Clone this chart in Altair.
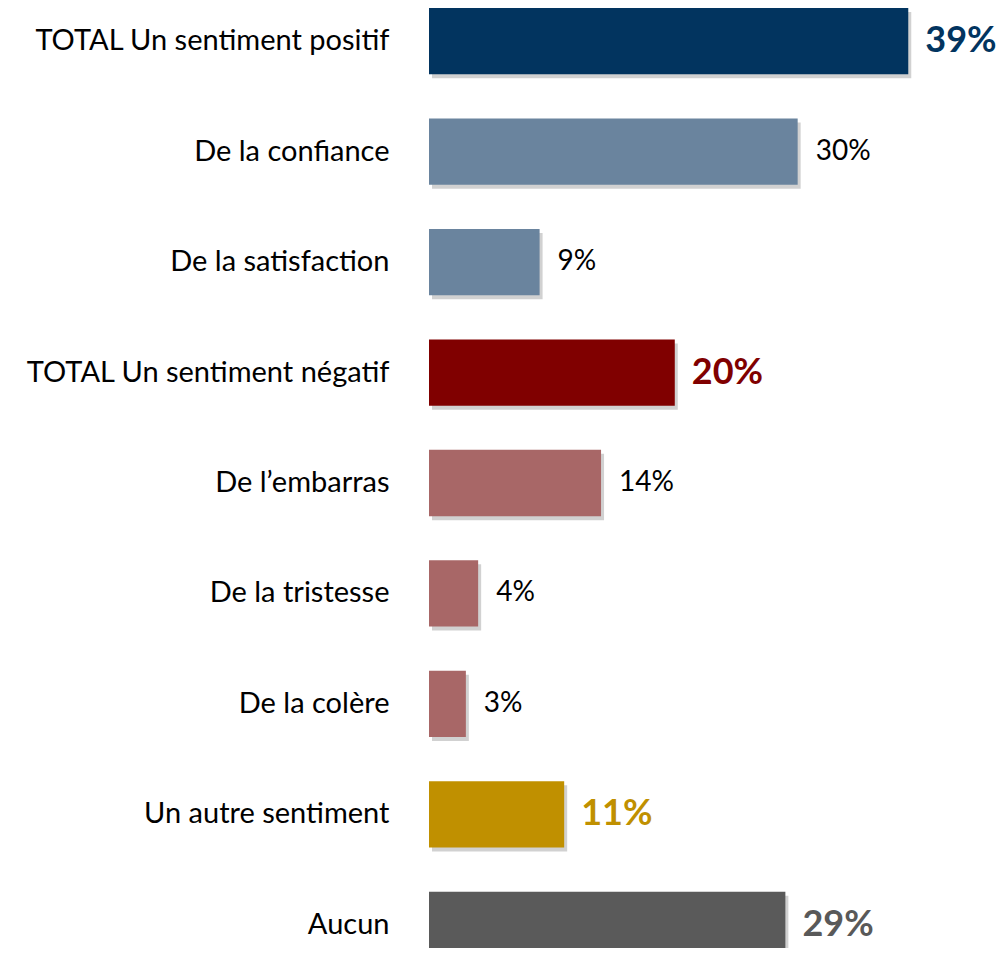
import altair as alt
import pandas as pd

categories = [
    "TOTAL Un sentiment positif",
    "De la confiance",
    "De la satisfaction",
    "TOTAL Un sentiment négatif",
    "De l’embarras",
    "De la tristesse",
    "De la colère",
    "Un autre sentiment",
    "Aucun",
]
values = [39, 30, 9, 20, 14, 4, 3, 11, 29]
bar_colors = ["#02345F", "#6A849E", "#6A849E", "#800000", "#A86767",
              "#A86767", "#A86767", "#C09000", "#5A5A5A"]
label_colors = ["#02345F", "#000000", "#000000", "#800000", "#000000",
                "#000000", "#000000", "#C09000", "#595959"]
is_total = [True, False, False, True, False, False, False, True, True]

df = pd.DataFrame({
    "cat": categories,
    "val": values,
    "bar_color": bar_colors,
    "label_color": label_colors,
    "total": is_total,
})
df["label"] = df["val"].astype(str) + "%"

FONT = "Lato"

y_enc = alt.Y(
    "cat:N",
    sort=categories,
    scale=alt.Scale(range=[-22, 972], paddingInner=0.4, paddingOuter=0.2),
    axis=alt.Axis(
        title=None, domain=False, ticks=False, labelPadding=40,
        labelFontSize=29, labelFont=FONT, labelColor="#000000", labelLimit=420,
    ),
)
x_enc = alt.X("val:Q", scale=alt.Scale(domain=[0, 45]), axis=None)

base = alt.Chart(df)

shadow = base.mark_bar(color="#000000", opacity=0.18, xOffset=3, yOffset=4, x2Offset=3).encode(
    x=x_enc, y=y_enc
)

bars = base.mark_bar().encode(
    x=x_enc,
    y=y_enc,
    color=alt.Color("bar_color:N", scale=None),
)

text_small = base.transform_filter("!datum.total").mark_text(
    align="left", baseline="middle", dx=18, fontSize=28, font=FONT
).encode(
    x=x_enc, y=y_enc, text="label:N", color=alt.Color("label_color:N", scale=None)
)

text_big = base.transform_filter("datum.total").mark_text(
    align="left", baseline="middle", dx=17, fontSize=36, fontWeight="bold", font=FONT
).encode(
    x=x_enc, y=y_enc, text="label:N", color=alt.Color("label_color:N", scale=None)
)

chart = alt.layer(shadow, bars, text_small, text_big).properties(
    width=553,
    height=940,
    autosize=alt.AutoSizeParams(type="none"),
    padding={"left": 421, "top": 0, "right": 15, "bottom": 0},
).configure_view(stroke=None)

chart.save("out.html", embed_options={"renderer": "svg", "actions": False})
